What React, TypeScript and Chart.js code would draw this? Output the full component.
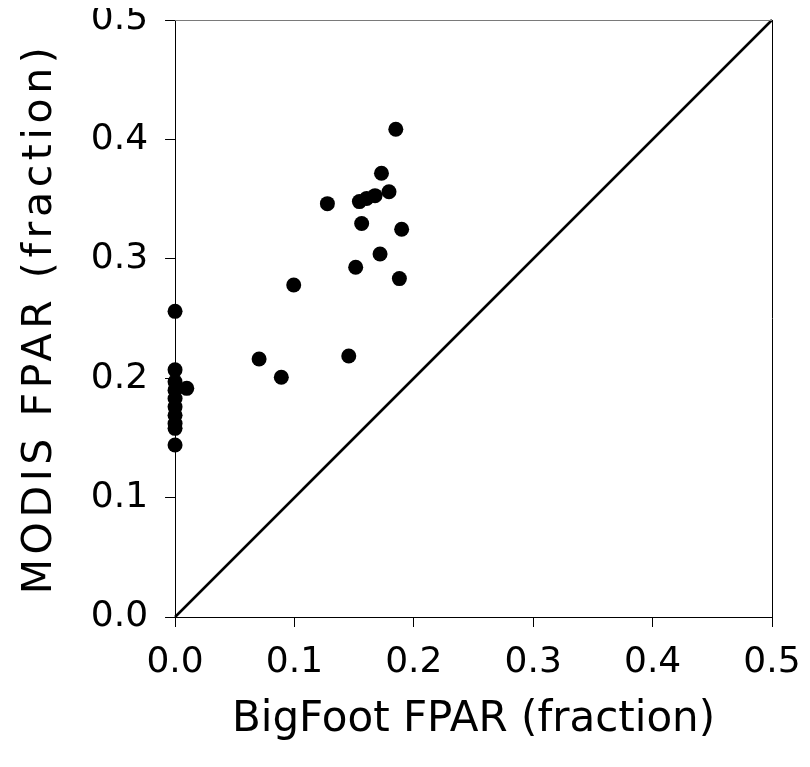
import React, { useEffect, useRef } from 'react';
import { Chart, registerables } from 'chart.js';

Chart.register(...registerables);

// BigFoot FPAR (x) vs MODIS FPAR (y), one entry per site/observation
const bigfootFpar = [
  0, 0, 0, 0, 0, 0, 0, 0, 0, 0,
  0.0098, 0.0704, 0.089, 0.0994, 0.1276, 0.1455, 0.1513, 0.1544, 0.1563,
  0.1605, 0.1675, 0.1717, 0.1729, 0.1792, 0.1849, 0.1879, 0.1898,
];
const modisFpar = [
  0.256, 0.207, 0.197, 0.19, 0.183, 0.176, 0.169, 0.162, 0.158, 0.144,
  0.1915, 0.2161, 0.2008, 0.2781, 0.3462, 0.2186, 0.2929, 0.3479, 0.3296,
  0.3506, 0.3529, 0.304, 0.3716, 0.3562, 0.4085, 0.2834, 0.3247,
];
// 1:1 line end points
const identityLine = [0, 0.5];
const axisMin = 0;
const axisMax = 0.5;
const axisStep = 0.1;
const xTitle = 'BigFoot FPAR (fraction)';
const yTitle = 'MODIS FPAR (fraction)';

const framePlugin = {
  id: 'frame',
  afterDraw(chart: any) {
    const { ctx, chartArea } = chart;
    const { left, right, top, bottom } = chartArea;
    ctx.save();
    ctx.lineWidth = 1;
    ctx.strokeStyle = '#7a7a7a';
    ctx.beginPath();
    ctx.moveTo(left, Math.round(top) + 0.5);
    ctx.lineTo(right + 1, Math.round(top) + 0.5);
    ctx.stroke();
    ctx.strokeStyle = '#000';
    ctx.beginPath();
    ctx.moveTo(Math.round(right) + 0.5, top);
    ctx.lineTo(Math.round(right) + 0.5, bottom);
    ctx.stroke();
    ctx.restore();
  },
};

const zeroPad = (s: any) => {
  s.paddingTop = 0;
  s.paddingBottom = 0;
  s.paddingLeft = 0;
  s.paddingRight = 0;
};

const spacedTitle = (spacing: string) => (s: any) => {
  zeroPad(s);
  if (!s.__spaced) {
    const orig = s.drawTitle.bind(s);
    s.drawTitle = () => {
      const c = s.ctx;
      c.save();
      c.letterSpacing = spacing;
      orig();
      c.restore();
    };
    s.__spaced = true;
  }
};

export default function App() {
  const ref = useRef<HTMLCanvasElement>(null);

  useEffect(() => {
    const font = 'DejaVu Sans';
    const chart = new Chart(ref.current as HTMLCanvasElement, {
      type: 'scatter',
      data: {
        datasets: [
          {
            data: identityLine.map((v) => ({ x: v, y: v })),
            showLine: true,
            borderColor: '#000',
            borderWidth: 2.5,
            pointRadius: 0,
            clip: false,
          } as any,
          {
            data: bigfootFpar.map((x, i) => ({ x, y: modisFpar[i] })),
            backgroundColor: '#000',
            borderColor: '#000',
            borderWidth: 0,
            pointRadius: 7.5,
            pointHoverRadius: 7.5,
            clip: false,
          } as any,
        ],
      },
      options: {
        responsive: false,
        animation: false,
        devicePixelRatio: 1,
        events: [],
        layout: { padding: { left: 0, top: 20, right: 30, bottom: 18 } },
        plugins: { legend: { display: false }, tooltip: { enabled: false } },
        scales: {
          x: {
            type: 'linear',
            min: axisMin,
            max: axisMax,
            ticks: {
              stepSize: axisStep,
              callback: (v: any) => Number(v).toFixed(1),
              color: '#000',
              font: { family: font, size: 36, lineHeight: 1 },
              padding: 18,
              maxRotation: 0,
              autoSkip: false,
            },
            grid: { drawOnChartArea: false, color: '#000', tickLength: 10, lineWidth: 1 },
            border: { display: true, color: '#000', width: 1 },
            title: {
              display: true,
              text: xTitle,
              color: '#000',
              font: { family: font, size: 42, lineHeight: 1 },
              padding: { top: 0, bottom: 0 },
            },
            afterFit: zeroPad,
          } as any,
          y: {
            type: 'linear',
            min: axisMin,
            max: axisMax,
            ticks: {
              stepSize: axisStep,
              callback: (v: any) => Number(v).toFixed(1),
              color: '#000',
              font: { family: font, size: 36, lineHeight: 1 },
              padding: 17,
              autoSkip: false,
            },
            grid: { drawOnChartArea: false, color: '#000', tickLength: 10, lineWidth: 1 },
            border: { display: true, color: '#000', width: 1 },
            title: {
              display: true,
              text: yTitle,
              color: '#000',
              font: { family: font, size: 41, lineHeight: 1 },
              padding: { top: 11.5, bottom: 13.3 },
            },
            afterFit: spacedTitle('4.6px'),
          } as any,
        },
      },
      plugins: [framePlugin],
    });
    return () => chart.destroy();
  }, []);

  return (
    <canvas
      ref={ref}
      width={794}
      height={759}
      style={{ display: 'block', marginTop: '-8px' }}
    />
  );
}
